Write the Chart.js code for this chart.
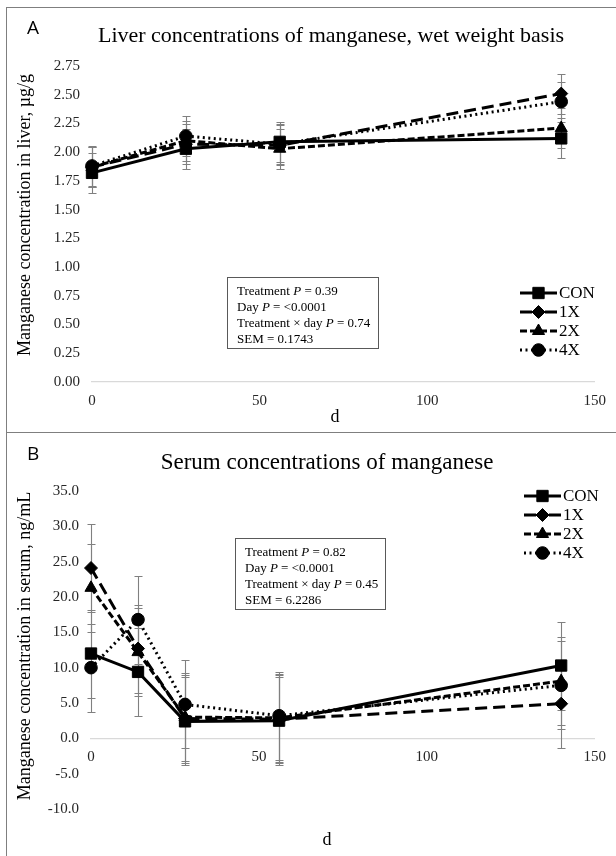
<!DOCTYPE html>
<html>
<head>
<meta charset="utf-8">
<script src="https://cdn.jsdelivr.net/npm/chart.js@4.4.0/dist/chart.umd.min.js"></script>
<style>
  html, body { margin: 0; padding: 0; background: #fff; overflow: hidden; }
  #wrap { position: relative; width: 616px; height: 856px; overflow: hidden; }
  .panel { position: absolute; left: 6px; width: 700px; border: 1px solid #7f7f7f; }
  canvas { position: absolute; left: 0; }
</style>
</head>
<body>
<div id="wrap">
  <div class="panel" style="top:7px;height:424px"></div>
  <div class="panel" style="top:432px;height:500px"></div>
  <canvas id="liver" width="616" height="432" style="top:0"></canvas>
  <canvas id="serum" width="616" height="424" style="top:432px"></canvas>
</div>
<script>
const groups = ['CON', '1X', '2X', '4X'];

// panel A - liver, ug/g
const liverDays = [0, 28, 56, 140];
const liverCON = [1.82, 2.03, 2.09, 2.12];
const liver1X = [1.87, 2.07, 2.06, 2.51];
const liver2X = [1.87, 2.10, 2.03, 2.21];
const liver4X = [1.88, 2.14, 2.07, 2.44];
const liverSEM = 0.1743;
const liverYTicks = [0, 0.25, 0.5, 0.75, 1, 1.25, 1.5, 1.75, 2, 2.25, 2.5, 2.75];
const liverStats = ['Treatment |P| = 0.39', 'Day |P| = <0.0001', 'Treatment \u00d7 day |P| = 0.74', 'SEM = 0.1743'];

// panel B - serum, ng/mL
const serumDays = [0, 14, 28, 56, 140];
const serumCON = [12.0, 9.4, 2.4, 2.5, 10.3];
const serum1X = [24.1, 12.7, 2.8, 2.7, 4.9];
const serum2X = [21.3, 12.2, 3.0, 2.9, 8.1];
const serum4X = [10.0, 16.8, 4.8, 3.2, 7.5];
const serumSEM = 6.2286;
const serumYTicks = [-10, -5, 0, 5, 10, 15, 20, 25, 30, 35];
const serumStats = ['Treatment |P| = 0.82', 'Day |P| = <0.0001', 'Treatment \u00d7 day |P| = 0.45', 'SEM = 6.2286'];

const xTicks = [0, 50, 100, 150];

const styles = {
  'CON': { dash: [], point: 'rect', radius: 8 },
  '1X': { dash: [12, 6], point: 'rectRot', radius: 6.5 },
  '2X': { dash: [7, 3], point: 'triangle', radius: 7 },
  '4X': { dash: [2, 3.5], point: 'circle', radius: 6.3 }
};
const serif = '"Liberation Serif", "Times New Roman", serif';

function richText(ctx, str, x, y, size) {
  str.split('|').forEach((part, i) => {
    ctx.font = (i % 2 ? 'italic ' : '') + size + 'px ' + serif;
    ctx.fillText(part, x, y);
    x += ctx.measureText(part).width;
  });
}

const decor = {
  id: 'decor',
  beforeDatasetsDraw(chart, args, o) {
    const { ctx, scales: { x, y } } = chart;
    ctx.save();
    ctx.strokeStyle = '#808080';
    ctx.lineWidth = 1.1;
    chart.data.datasets.forEach(ds => ds.data.forEach(p => {
      const px = Math.round(x.getPixelForValue(p.x)) + 0.5;
      const t = Math.round(y.getPixelForValue(p.y + o.sem)) + 0.5;
      const b = Math.round(y.getPixelForValue(p.y - o.sem)) + 0.5;
      ctx.beginPath();
      ctx.moveTo(px, t); ctx.lineTo(px, b);
      ctx.moveTo(px - 4, t); ctx.lineTo(px + 4, t);
      ctx.moveTo(px - 4, b); ctx.lineTo(px + 4, b);
      ctx.stroke();
    }));
    ctx.restore();
  },
  afterDraw(chart, args, o) {
    const { ctx } = chart;
    ctx.save();
    ctx.fillStyle = '#000';
    ctx.textBaseline = 'middle';

    ctx.textAlign = 'left';
    ctx.font = '19px "Open Sans", sans-serif';
    ctx.fillText(o.letter, o.letterPos[0], o.letterPos[1]);

    ctx.textAlign = 'center';
    ctx.font = o.titleSize + 'px ' + serif;
    ctx.fillText(o.title, o.titlePos[0], o.titlePos[1]);

    ctx.font = '18px ' + serif;
    ctx.fillText('d', o.xTitlePos[0], o.xTitlePos[1]);

    ctx.save();
    ctx.translate(o.yTitlePos[0], o.yTitlePos[1]);
    ctx.rotate(-Math.PI / 2);
    ctx.fillText(o.yTitle, 0, 0);
    ctx.restore();

    // stats box
    const b = o.box;
    ctx.strokeStyle = '#595959';
    ctx.lineWidth = 1;
    ctx.strokeRect(b[0] + 0.5, b[1] + 0.5, b[2], b[3]);
    ctx.textAlign = 'left';
    o.stats.forEach((s, i) => richText(ctx, s, b[0] + 10, b[1] + 15 + i * 16, 13));

    // legend, line drawn from both ends toward the marker
    const [lx, ly, dy] = o.legendPos;
    const half = 18.5;
    chart.data.datasets.forEach((ds, i) => {
      const yy = ly + i * dy;
      const cx = lx + half;
      ctx.strokeStyle = '#000';
      ctx.fillStyle = '#000';
      ctx.lineWidth = 3;
      ctx.setLineDash(ds.borderDash);
      ctx.beginPath();
      ctx.moveTo(lx, yy); ctx.lineTo(cx, yy);
      ctx.stroke();
      ctx.beginPath();
      ctx.moveTo(lx + 2 * half, yy); ctx.lineTo(cx, yy);
      ctx.stroke();
      ctx.setLineDash([]);
      ctx.lineWidth = 1;
      Chart.helpers.drawPoint(ctx, { pointStyle: ds.pointStyle, radius: ds.pointRadius, borderWidth: 1, rotation: 0 }, cx, yy);
      ctx.font = '17px ' + serif;
      ctx.fillText(ds.label, lx + 2 * half + 2, yy + 1);
    });
    ctx.restore();
  }
};

function makeChart(id, days, series, yTicks, digits, o) {
  const step = yTicks[1] - yTicks[0];
  const tickFont = { family: serif, size: 15 };
  return new Chart(document.getElementById(id), {
    type: 'line',
    data: {
      datasets: groups.map((g, i) => ({
        label: g,
        data: days.map((d, j) => ({ x: d, y: series[i][j] })),
        borderColor: '#000',
        backgroundColor: '#000',
        borderWidth: 3,
        borderDash: styles[g].dash,
        pointStyle: styles[g].point,
        pointRadius: styles[g].radius,
        pointBorderWidth: 1,
        pointBackgroundColor: '#000',
        pointBorderColor: '#000',
        tension: 0,
        clip: false
      }))
    },
    options: {
      responsive: false,
      animation: false,
      devicePixelRatio: 1,
      layout: { padding: o.pad },
      plugins: { legend: { display: false }, tooltip: { enabled: false }, decor: o },
      scales: {
        x: {
          type: 'linear', position: { y: 0 }, min: xTicks[0], max: xTicks[xTicks.length - 1],
          ticks: { stepSize: xTicks[1] - xTicks[0], padding: 10, font: tickFont, color: '#262626', maxRotation: 0 },
          grid: { display: false, drawTicks: false },
          border: { display: true, color: '#d9d9d9', width: 1.3 }
        },
        y: {
          type: 'linear', min: yTicks[0], max: yTicks[yTicks.length - 1],
          ticks: { stepSize: step, padding: 12, font: tickFont, color: '#262626', callback: v => v.toFixed(digits) },
          grid: { display: false, drawTicks: false },
          border: { display: false },
          afterFit: s => { s.width = o.yWidth; }
        }
      }
    },
    plugins: [decor]
  });
}

makeChart('liver', liverDays, [liverCON, liver1X, liver2X, liver4X], liverYTicks, 2, {
  pad: { left: 0, right: 19, top: 66, bottom: 50 },
  yWidth: 92,
  sem: liverSEM,
  letter: 'A', letterPos: [27, 29],
  title: 'Liver concentrations of manganese, wet weight basis', titleSize: 22, titlePos: [331, 36],
  yTitle: 'Manganese concentration in liver, \u00b5g/g', yTitlePos: [25, 215],
  xTitlePos: [335, 417],
  stats: liverStats, box: [227, 277, 151, 71],
  legendPos: [520, 293, 19]
});

makeChart('serum', serumDays, [serumCON, serum1X, serum2X, serum4X], serumYTicks, 1, {
  pad: { left: 0, right: 19, top: 59, bottom: 47 },
  yWidth: 91,
  sem: serumSEM,
  letter: 'B', letterPos: [27, 23],
  title: 'Serum concentrations of manganese', titleSize: 23, titlePos: [327, 31],
  yTitle: 'Manganese concentration in serum, ng/mL', yTitlePos: [25, 214],
  xTitlePos: [327, 408],
  stats: serumStats, box: [235, 106, 150, 71],
  legendPos: [524, 64, 19]
});
</script>
</body>
</html>
